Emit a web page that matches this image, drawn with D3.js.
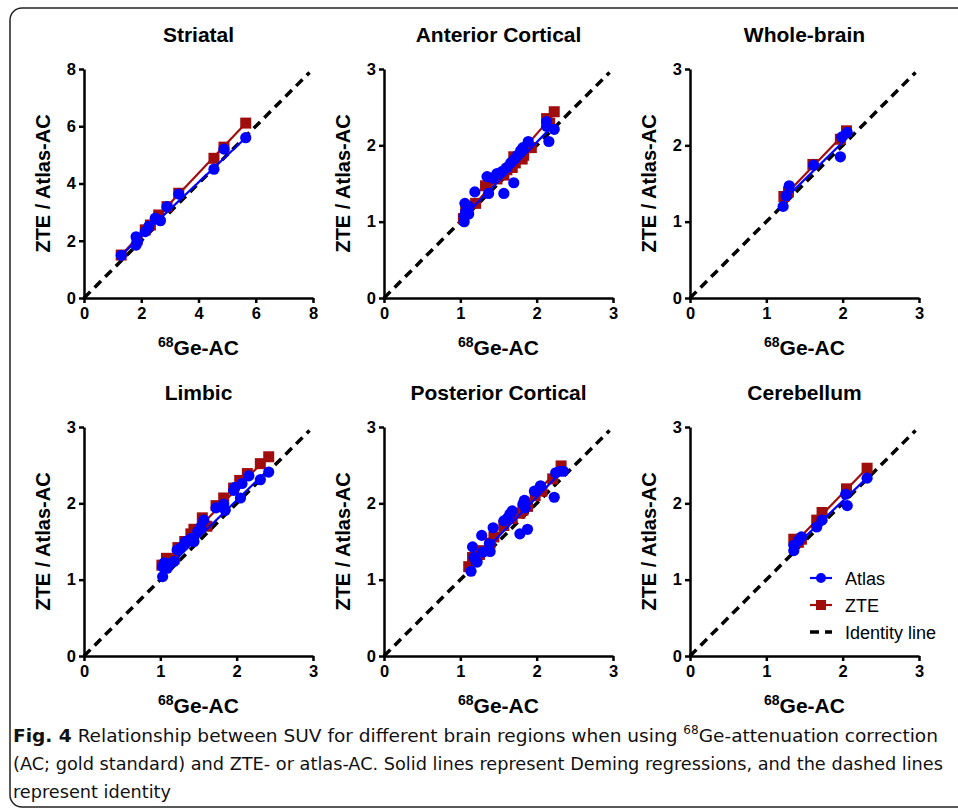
<!DOCTYPE html>
<html>
<head>
<meta charset="utf-8">
<script src="https://cdn.jsdelivr.net/npm/d3@7"></script>
<style>
  body { margin: 0; background: #fff; }
  svg { display: block; }
</style>
</head>
<body>
<svg id="chart" width="958" height="809"></svg>
<script>
// panel titles, axis ranges
const regions = ["Striatal", "Anterior Cortical", "Whole-brain", "Limbic", "Posterior Cortical", "Cerebellum"];
const axisMax = [8, 3, 3, 3, 3, 3];
const ticks8 = [0, 2, 4, 6, 8];
const ticks3 = [0, 1, 2, 3];

// [68Ge-AC, ZTE/Atlas-AC] pairs
const striatalAtlas = [[1.30,1.49],[1.82,2.14],[1.82,1.85],[1.87,1.97],[2.14,2.32],[2.26,2.50],[2.49,2.79],[2.67,2.70],[2.90,3.19],[3.31,3.63],[4.54,4.50],[4.89,5.20],[5.65,5.60]];
const striatalZte = [[1.30,1.50],[1.85,2.03],[2.14,2.38],[2.32,2.55],[2.61,2.90],[2.90,3.19],[3.31,3.66],[4.54,4.88],[4.89,5.27],[5.65,6.11]];

const anteriorAtlas = [[1.05,1.00],[1.05,1.07],[1.07,1.13],[1.06,1.24],[1.11,1.20],[1.11,1.10],[1.19,1.39],[1.35,1.59],[1.37,1.37],[1.42,1.57],[1.48,1.63],[1.55,1.66],[1.57,1.37],[1.61,1.71],[1.66,1.77],[1.70,1.51],[1.71,1.82],[1.75,1.87],[1.79,1.93],[1.82,1.97],[1.89,2.05],[2.13,2.31],[2.13,2.25],[2.16,2.05],[2.23,2.21]];
const anteriorZte = [[1.04,1.04],[1.07,1.15],[1.20,1.24],[1.33,1.47],[1.40,1.57],[1.48,1.56],[1.57,1.61],[1.61,1.68],[1.68,1.71],[1.72,1.77],[1.70,1.85],[1.81,1.82],[1.83,1.87],[1.93,1.97],[2.13,2.35],[2.23,2.44],[2.17,2.29]];

const wholeAtlas = [[1.22,1.20],[1.26,1.34],[1.30,1.47],[1.62,1.74],[1.97,1.85],[1.99,2.11],[2.06,2.17]];
const wholeZte = [[1.23,1.33],[1.29,1.39],[1.61,1.75],[1.97,2.08],[2.05,2.19]];

const limbicAtlas = [[1.03,1.04],[1.03,1.17],[1.05,1.22],[1.12,1.21],[1.18,1.24],[1.09,1.15],[1.22,1.39],[1.27,1.42],[1.33,1.50],[1.40,1.54],[1.44,1.50],[1.49,1.63],[1.53,1.69],[1.57,1.78],[1.73,1.94],[1.83,1.99],[1.85,1.91],[1.96,2.17],[1.98,2.21],[2.05,2.07],[2.07,2.26],[2.16,2.36],[2.31,2.31],[2.42,2.41]];
const limbicZte = [[1.02,1.19],[1.08,1.28],[1.18,1.27],[1.23,1.42],[1.32,1.50],[1.40,1.60],[1.44,1.66],[1.55,1.81],[1.61,1.70],[1.73,1.97],[1.83,2.07],[1.96,2.20],[2.04,2.30],[2.14,2.39],[2.31,2.52],[2.42,2.61]];

const posteriorAtlas = [[1.14,1.11],[1.16,1.43],[1.18,1.29],[1.22,1.23],[1.28,1.58],[1.29,1.36],[1.38,1.47],[1.39,1.37],[1.43,1.68],[1.57,1.77],[1.62,1.81],[1.65,1.86],[1.68,1.90],[1.78,1.60],[1.82,1.99],[1.84,2.04],[1.85,1.94],[1.88,1.66],[1.97,2.16],[2.05,2.23],[2.23,2.08],[2.25,2.40],[2.30,2.42],[2.35,2.42]];
const posteriorZte = [[1.11,1.17],[1.16,1.29],[1.25,1.33],[1.30,1.38],[1.39,1.48],[1.44,1.56],[1.57,1.71],[1.68,1.80],[1.78,1.87],[1.82,1.91],[1.88,1.96],[1.98,2.10],[2.07,2.16],[2.21,2.32],[2.32,2.49]];

const cerebellumAtlas = [[1.36,1.38],[1.36,1.45],[1.42,1.51],[1.46,1.56],[1.66,1.69],[1.73,1.78],[2.04,2.12],[2.06,1.97],[2.32,2.33]];
const cerebellumZte = [[1.36,1.53],[1.42,1.49],[1.46,1.53],[1.66,1.78],[1.73,1.88],[2.05,2.19],[2.32,2.46]];

// Deming fits [slope, intercept] estimated from the drawn lines
const atlasFits = [[0.945,0.26],[1.02,0.0],[0.98,0.08],[0.97,0.10],[1.03,0.02],[0.95,0.13]];
const zteFits = [[1.057,0.13],[1.14,-0.13],[1.04,0.05],[1.03,0.13],[1.08,-0.02],[1.03,0.07]];

const atlasSets = [striatalAtlas, anteriorAtlas, wholeAtlas, limbicAtlas, posteriorAtlas, cerebellumAtlas];
const zteSets = [striatalZte, anteriorZte, wholeZte, limbicZte, posteriorZte, cerebellumZte];

const blue = "#0000ff";
const red = "#a00d0d";
const font = "'Liberation Sans', Arial, sans-serif";

const svg = d3.select("#chart");

// rounded frame
svg.append("rect")
    .attr("x", 10).attr("y", 8)
    .attr("width", 980).attr("height", 799)
    .attr("rx", 12)
    .attr("fill", "none")
    .attr("stroke", "#222")
    .attr("stroke-width", 1.5);

const lefts = [84, 384, 690];
const tops = [69, 427];
const size = 229;

regions.forEach((name, i) => {
    const left = lefts[i % 3];
    const top = tops[Math.floor(i / 3)];
    const max = axisMax[i];
    const ticks = max === 8 ? ticks8 : ticks3;

    const x = d3.scaleLinear().domain([0, max]).range([0, size]);
    const y = d3.scaleLinear().domain([0, max]).range([size, 0]);

    const g = svg.append("g").attr("transform", `translate(${left},${top})`);

    const xAxis = g.append("g")
        .attr("transform", `translate(0,${size})`)
        .call(d3.axisBottom(x).tickValues(ticks).tickFormat(d3.format("d")).tickSize(5).tickPadding(4).tickSizeOuter(0));
    const yAxis = g.append("g")
        .call(d3.axisLeft(y).tickValues(ticks).tickFormat(d3.format("d")).tickSize(5).tickPadding(3).tickSizeOuter(0));

    [xAxis, yAxis].forEach(a => {
        a.attr("font-size", 16.5).attr("font-family", font);
        a.select(".domain").attr("stroke", "#000").attr("stroke-width", 2.5);
        a.selectAll(".tick line").attr("stroke", "#000").attr("stroke-width", 2.5);
        a.selectAll(".tick text")
            .attr("fill", "#000")
            .style("font-family", font)
            .style("font-size", "16.5px")
            .style("font-weight", "bold");
    });

    // identity line
    g.append("line")
        .attr("x1", x(0)).attr("y1", y(0))
        .attr("x2", x(max * 0.985)).attr("y2", y(max * 0.985))
        .attr("stroke", "#000")
        .attr("stroke-width", 3.5)
        .attr("stroke-dasharray", "9,6");

    const drawSeries = (data, fit, color, shape) => {
        const xs = d3.extent(data, d => d[0]);
        g.append("line")
            .attr("x1", x(xs[0])).attr("y1", y(fit[0] * xs[0] + fit[1]))
            .attr("x2", x(xs[1])).attr("y2", y(fit[0] * xs[1] + fit[1]))
            .attr("stroke", color)
            .attr("stroke-width", 2.2);
        if (shape === "square") {
            g.selectAll(null).data(data).enter().append("rect")
                .attr("x", d => x(d[0]) - 5.5)
                .attr("y", d => y(d[1]) - 5.5)
                .attr("width", 11).attr("height", 11)
                .attr("fill", color);
        } else {
            g.selectAll(null).data(data).enter().append("circle")
                .attr("cx", d => x(d[0]))
                .attr("cy", d => y(d[1]))
                .attr("r", 5.6)
                .attr("fill", color);
        }
    };
    drawSeries(zteSets[i], zteFits[i], red, "square");
    drawSeries(atlasSets[i], atlasFits[i], blue, "circle");

    // title
    g.append("text")
        .attr("x", size / 2).attr("y", -27)
        .attr("text-anchor", "middle")
        .style("font-family", font)
        .style("font-size", "21px")
        .style("font-weight", "bold")
        .text(name);

    // x label
    const xl = g.append("text")
        .attr("x", size / 2).attr("y", size + 57)
        .attr("text-anchor", "middle")
        .style("font-family", font)
        .style("font-weight", "bold");
    xl.append("tspan").style("font-size", "14px").attr("dy", -8).text("68");
    xl.append("tspan").style("font-size", "21px").attr("dy", 8).text("Ge-AC");

    // y label
    g.append("text")
        .attr("transform", `translate(-34,${size / 2}) rotate(-90)`)
        .attr("text-anchor", "middle")
        .style("font-family", font)
        .style("font-size", "20px")
        .style("font-weight", "bold")
        .text("ZTE / Atlas-AC");

    // legend in last panel
    if (i === 5) {
        const items = [["Atlas", blue, "circle"], ["ZTE", red, "square"], ["Identity line", "#000", "dash"]];
        items.forEach((it, k) => {
            const ly = 151 + k * 27;
            const lg = g.append("g").attr("transform", `translate(120,${ly})`);
            if (it[2] === "dash") {
                lg.append("line").attr("x1", 0).attr("x2", 22).attr("y1", 0).attr("y2", 0)
                    .attr("stroke", "#000").attr("stroke-width", 3.5).attr("stroke-dasharray", "9,6");
            } else {
                lg.append("line").attr("x1", 0).attr("x2", 22).attr("y1", 0).attr("y2", 0)
                    .attr("stroke", it[1]).attr("stroke-width", 2.2);
                if (it[2] === "circle") {
                    lg.append("circle").attr("cx", 11).attr("cy", 0).attr("r", 5).attr("fill", it[1]);
                } else {
                    lg.append("rect").attr("x", 6).attr("y", -5).attr("width", 10).attr("height", 10).attr("fill", it[1]);
                }
            }
            lg.append("text")
                .attr("x", 35).attr("y", 6.5)
                .style("font-family", font)
                .style("font-size", "18px")
                .text(it[0]);
        });
    }
});

// caption
const capFont = "'DejaVu Sans Condensed', 'Open Sans', sans-serif";
const cap1 = svg.append("text")
    .attr("x", 13).attr("y", 742)
    .attr("textLength", 925).attr("lengthAdjust", "spacingAndGlyphs")
    .style("font-family", capFont).style("font-size", "18.5px").attr("fill", "#111");
cap1.append("tspan").style("font-weight", "bold").text("Fig. 4");
cap1.append("tspan").text(" Relationship between SUV for different brain regions when using ");
cap1.append("tspan").style("font-size", "12px").attr("dy", -8).text("68");
cap1.append("tspan").attr("dy", 8).text("Ge-attenuation correction");

svg.append("text")
    .attr("x", 13).attr("y", 770)
    .attr("textLength", 930).attr("lengthAdjust", "spacingAndGlyphs")
    .style("font-family", capFont).style("font-size", "18.5px").attr("fill", "#111")
    .text("(AC; gold standard) and ZTE- or atlas-AC. Solid lines represent Deming regressions, and the dashed lines");

svg.append("text")
    .attr("x", 13).attr("y", 798)
    .attr("textLength", 158).attr("lengthAdjust", "spacingAndGlyphs")
    .style("font-family", capFont).style("font-size", "18.5px").attr("fill", "#111")
    .text("represent identity");
</script>
</body>
</html>
